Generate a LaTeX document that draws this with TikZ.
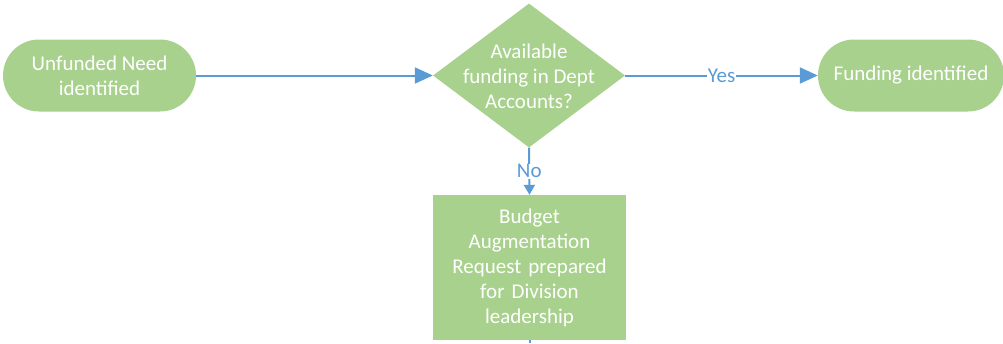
\documentclass[tikz,border=0pt]{standalone}
\usepackage{fontspec}
\setmainfont{Carlito}
\usetikzlibrary{shapes.geometric,shapes.misc,arrows.meta}
\definecolor{fillg}{HTML}{A9D18E}
\definecolor{lineb}{HTML}{5B9BD5}
\begin{document}
\begin{tikzpicture}[x=1pt,y=-1pt,
  base/.style={fill=fillg,draw=none,text=white,font=\fontsize{21}{25}\selectfont,align=center,inner sep=0pt},
  term/.style={base,rounded rectangle,minimum width=193pt,minimum height=72pt},
  decis/.style={base,diamond,minimum width=192pt,minimum height=144pt,aspect=1.333},
  proc/.style={base,rectangle,minimum width=193pt,minimum height=145pt,text width=180pt},
  conn/.style={draw=lineb,line width=2pt,-{Triangle[length=18pt,width=16pt]}},
  connsmall/.style={draw=lineb,line width=2pt,-{Triangle[length=10pt,width=11pt]}},
  lbl/.style={text=lineb,font=\fontsize{21}{22}\selectfont,fill=white,inner sep=0.5pt}]
\useasboundingbox (0,0) rectangle (1003,343);
\node[term] (need) at (99.5,75.5) {Unfunded Need\\identified};
\node[decis] (avail) at (529,75.5) {};
\node[base,fill=none] (availtxt) at (529,76) {Available\\funding in Dept\\Accounts?};
\node[term,minimum width=186pt] (found) at (911,75.5) {Funding identified};
\node[proc] (bar) at (529.5,267.5) {Budget\\Augmentation\\Request prepared\\for Division\\leadership};
\coordinate (stub) at (529.5,343);
\draw[conn] (need.east) -- (avail.west);
\draw[conn] (avail.east) -- node[lbl]{Yes} (found.west);
\draw[connsmall] (avail.south) -- node[lbl,pos=0.5]{No} (bar.north);
\draw[draw=lineb,line width=2pt] (bar.south) -- (stub);
\end{tikzpicture}
\end{document}
